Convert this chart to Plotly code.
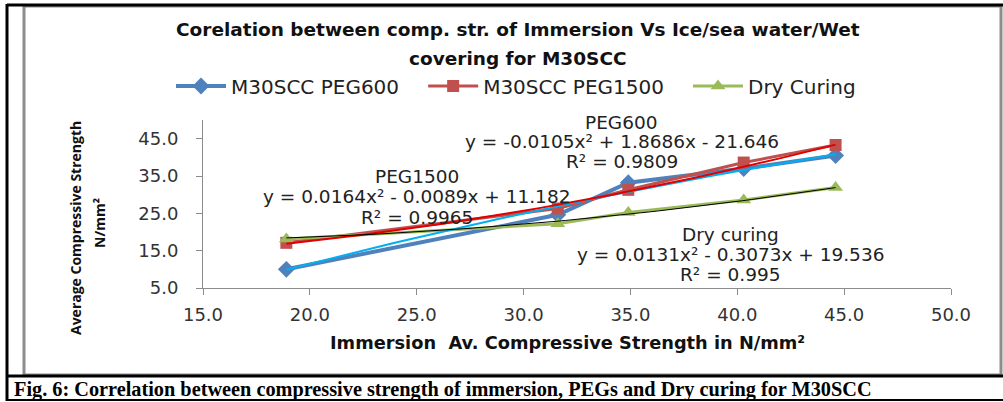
import numpy as np
import plotly.graph_objects as go

# ---- data ----
immersion = [18.9, 31.6, 34.9, 40.3, 44.6]
peg600 = [10.0, 24.6, 33.2, 37.0, 40.5]
peg1500 = [17.1, 26.3, 31.3, 38.6, 43.3]
dry = [18.1, 22.2, 25.2, 28.6, 31.9]

# trendline coefficients printed on the chart (a2, a1, a0)
coef_peg600 = [-0.0105, 1.8686, -21.646]
coef_peg1500 = [0.0164, -0.0089, 11.182]
coef_dry = [0.0131, -0.3073, 19.536]

x_ticks = [15, 20, 25, 30, 35, 40, 45, 50]
y_ticks = [5, 15, 25, 35, 45]

W, H = 1003, 402
L, R, T, B = 203, 52, 120, 114
PW, PH = W - L - R, H - T - B


def px(x):
    return (x - L) / PW


def py(y):
    return (H - B - y) / PH


PAD = "\u00a0\u00a0\u00a0"
fig = go.Figure()

fig.add_trace(go.Scatter(x=immersion, y=peg600, name="M30SCC PEG600" + PAD, mode="lines+markers",
                         line=dict(color="#4F81BD", width=4),
                         marker=dict(symbol="diamond", size=13, color="#4F81BD")))
fig.add_trace(go.Scatter(x=immersion, y=peg1500, name="M30SCC PEG1500" + PAD, mode="lines+markers",
                         line=dict(color="#C0504D", width=3),
                         marker=dict(symbol="square", size=12, color="#C0504D")))
fig.add_trace(go.Scatter(x=immersion, y=dry, name="Dry Curing", mode="lines+markers",
                         line=dict(color="#9BBB59", width=3),
                         marker=dict(symbol="triangle-up", size=13, color="#9BBB59")))

xt = np.linspace(min(immersion), max(immersion), 60)
for coef, col, w in [(coef_peg600, "#00B0F0", 2), (coef_peg1500, "#E00000", 2), (coef_dry, "#000000", 1)]:
    fig.add_trace(go.Scatter(x=xt, y=np.polyval(coef, xt), mode="lines", showlegend=False,
                             hoverinfo="skip", line=dict(color=col, width=w)))

lab_font = dict(family="DejaVu Sans, Verdana, sans-serif", size=18.5, color="#222222")
labels = [
    (34.6, 49.4, "PEG600"),
    (34.6, 44.2, "y = -0.0105x² + 1.8686x - 21.646"),
    (34.6, 38.8, "R² = 0.9809"),
    (25.0, 35.0, "PEG1500"),
    (25.0, 29.6, "y = 0.0164x² - 0.0089x + 11.182"),
    (25.0, 24.0, "R² = 0.9965"),
    (39.7, 19.3, "Dry curing"),
    (39.7, 13.9, "y = 0.0131x² - 0.3073x + 19.536"),
    (39.7, 8.5, "R² = 0.995"),
]
for x, y, t in labels:
    fig.add_annotation(x=x, y=y, xref="x", yref="y", text=t, showarrow=False,
                       font=lab_font, xanchor="center", yanchor="middle")

title_font = dict(family="DejaVu Sans, sans-serif", size=18.5, color="#111111")
fig.add_annotation(x=px(518), y=py(30), xref="paper", yref="paper", showarrow=False,
                   text="<b>Corelation between comp. str. of Immersion Vs Ice/sea water/Wet</b>",
                   font=title_font, xanchor="center", yanchor="middle")
fig.add_annotation(x=px(518), y=py(58), xref="paper", yref="paper", showarrow=False,
                   text="<b>covering for M30SCC</b>",
                   font=title_font, xanchor="center", yanchor="middle")

ax_font = dict(family="DejaVu Sans, sans-serif", size=17.8, color="#111111")
fig.add_annotation(x=px(567), y=py(342), xref="paper", yref="paper", showarrow=False,
                   text="<b>Immersion\u00a0 Av. Compressive Strength in N/mm²</b>",
                   font=ax_font, xanchor="center", yanchor="middle")
yt_font = dict(family="Open Sans, sans-serif", size=14, color="#111111")
fig.add_annotation(x=px(75), y=py(228), xref="paper", yref="paper", showarrow=False,
                   text="<b>Average Compressive Strength</b>", textangle=-90,
                   font=yt_font, xanchor="center", yanchor="middle")
fig.add_annotation(x=px(99), y=py(223), xref="paper", yref="paper", showarrow=False,
                   text="<b>N/mm²</b>", textangle=-90,
                   font=yt_font, xanchor="center", yanchor="middle")

fig.add_annotation(x=px(12), y=py(389), xref="paper", yref="paper", showarrow=False,
                   text="<b>Fig. 6: Correlation between compressive strength of immersion, PEGs and Dry curing for M30SCC</b>",
                   font=dict(family="Liberation Serif, serif", size=20.3, color="#000000"),
                   xanchor="left", yanchor="middle")

# frames
shapes = [
    dict(type="rect", x0=px(24), x1=px(1001), y0=py(6), y1=py(375),
         line=dict(color="#8C8C8C", width=3)),
    dict(type="line", x0=px(7), x1=px(1003), y0=py(5), y1=py(5), line=dict(color="#000", width=3)),
    dict(type="line", x0=px(7), x1=px(7), y0=py(4), y1=py(401), line=dict(color="#000", width=3)),
    dict(type="line", x0=px(7), x1=px(1003), y0=py(376), y1=py(376), line=dict(color="#000", width=3)),
    dict(type="line", x0=px(7), x1=px(1003), y0=py(400), y1=py(400), line=dict(color="#000", width=2)),
]
for s in shapes:
    s.update(xref="paper", yref="paper", layer="above")
    fig.add_shape(**s)

tick_font = dict(family="DejaVu Sans, Verdana, sans-serif", size=18, color="#333333")
fig.update_xaxes(range=[15, 50], tickvals=x_ticks, ticktext=[f"{v:.1f}" for v in x_ticks],
                 showgrid=False, zeroline=False, showline=True, linecolor="#8C8C8C", linewidth=1,
                 ticks="outside", ticklen=6, tickcolor="#8C8C8C", tickfont=tick_font,
                 ticklabelstandoff=4)
fig.update_yaxes(range=[5, 50], tickvals=y_ticks, ticktext=[f"{v:.1f}" for v in y_ticks],
                 showgrid=False, zeroline=False, showline=True, linecolor="#8C8C8C", linewidth=1,
                 ticks="outside", ticklen=6, tickcolor="#8C8C8C", tickfont=tick_font,
                 ticklabelstandoff=14)

fig.update_layout(
    width=W, height=H, margin=dict(l=L, r=R, t=T, b=B),
    paper_bgcolor="white", plot_bgcolor="white",
    showlegend=True,
    legend=dict(orientation="h", x=px(516), xanchor="center", y=py(86), yanchor="middle",
                font=dict(family="DejaVu Sans, Verdana, sans-serif", size=20, color="#222222"),
                itemwidth=50, bgcolor="rgba(0,0,0,0)"),
)

fig.write_html("out.html", config={"displayModeBar": False},
               post_script="document.body.style.margin='0';document.body.style.overflow='hidden';")
